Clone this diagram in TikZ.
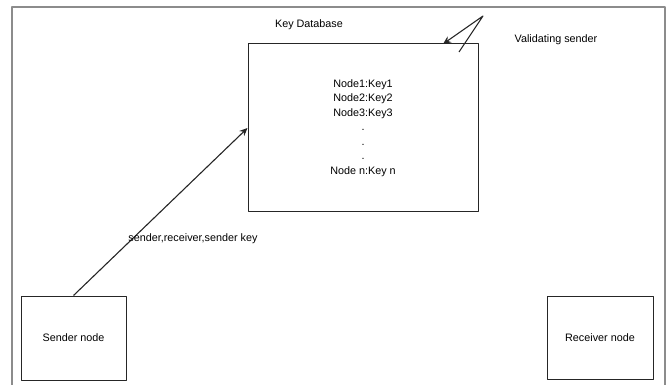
\documentclass[tikz,border=0pt]{standalone}
\usepackage{fontspec}
\setmainfont{Liberation Sans}
\usetikzlibrary{arrows.meta}
\tikzset{
  box/.style={draw=black!85, line width=1pt, inner sep=0pt, align=center},
  frame/.style={draw=black!45, line width=1.5pt},
  link/.style={->, line width=1.1pt, black!85}
}
\begin{document}
\begin{tikzpicture}[x=1pt, y=-1pt, font=\fontsize{10.8}{14.5}\selectfont, line join=round, >={Stealth[length=8pt,width=7pt]}]
\useasboundingbox (0,0) rectangle (670,385);
\draw[frame] (12,385) -- (12,7) -- (665,7) -- (665,385);
% database
\node[box, minimum width=230pt, minimum height=168pt] (db) at (363,128)
  {Node1:Key1\\Node2:Key2\\Node3:Key3\\.\\.\\.\\Node n:Key n};
\node (dbtitle) at (309,25) {Key Database};
% end nodes
\node[box, minimum width=105pt, minimum height=84pt] (sender) at (73.5,338) {Sender node};
\node[box, minimum width=106pt, minimum height=83pt] (receiver) at (600,337.5) {Receiver node};
% request
\draw[link] (sender.north) -- (db.west);
\node (req) at (193,239) {sender,receiver,sender key};
% validation
\coordinate (v1) at (459,52);
\coordinate (v2) at (483,16);
\coordinate (vt) at (443,44);
\draw[link] (v1) -- (v2) -- (vt);
\node (valid) at (556,40) {Validating sender};
\end{tikzpicture}
\end{document}
